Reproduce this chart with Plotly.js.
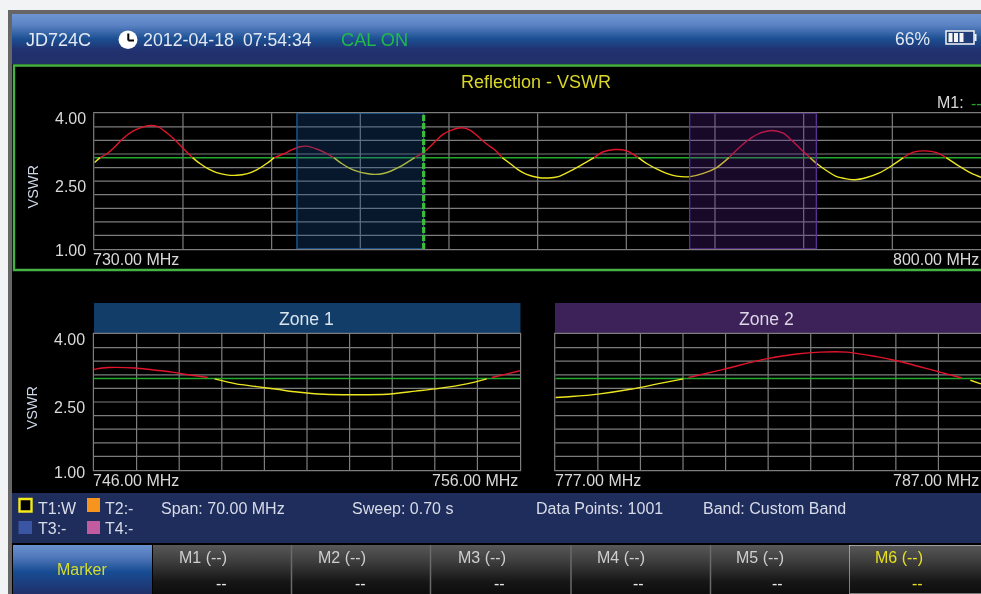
<!DOCTYPE html>
<html>
<head>
<meta charset="utf-8">
<script src="https://cdn.plot.ly/plotly-3.0.1.min.js"></script>
<style>
html,body{margin:0;padding:0;background:#f1f3f5;overflow:hidden;width:981px;height:594px}
.c{position:absolute}
#stage{position:absolute;left:0;top:0;width:981px;height:594px;filter:blur(0.35px)}
#plot{position:absolute;left:0;top:0;width:981px;height:594px}
#plot .crisp{shape-rendering:geometricPrecision !important}
#plot .shapelayer path{shape-rendering:geometricPrecision !important}
</style>
</head>
<body>
<div id="stage">
<div class="c" style="left:8px;top:10px;width:973px;height:584px;background:#666"></div>
<div class="c" style="left:12px;top:14px;width:969px;height:580px;background:#000"></div>
<div class="c" style="left:12px;top:14px;width:969px;height:50px;background:linear-gradient(#6f95d2 0%,#5b83c4 22%,#1b4f92 50%,#223170 72%,#213068 100%)"></div>
<div class="c" style="left:12px;top:493px;width:969px;height:50px;background:#1f2d5c"></div>
<div class="c" style="left:13px;top:545px;width:139px;height:49px;background:linear-gradient(#6a90cf 0%,#5078ba 25%,#174c92 55%,#21306a 100%)"></div>
<div class="c" style="left:153px;top:545px;width:828px;height:49px;background:linear-gradient(#585858 0%,#3c3c3c 35%,#161616 75%,#0d0d0d 100%)"></div>
<div id="plot"></div>
</div>
<script>
const mainFreq = [730.00,730.45,730.97,731.63,732.29,733.08,733.74,734.39,735.05,735.71,736.37,737.03,737.75,738.34,739.00,739.66,740.45,741.24,742.03,742.82,743.61,744.20,744.92,745.58,746.24,746.89,747.55,748.21,748.90,749.53,750.18,750.84,751.50,752.16,752.82,753.47,754.13,754.79,755.30,755.97,756.50,757.03,757.55,758.21,759.00,759.66,760.32,760.97,761.63,762.20,762.82,763.47,764.13,765.05,765.84,766.63,767.55,768.47,769.45,770.18,771.10,772.03,772.95,773.61,774.39,775.18,775.97,777.03,778.08,779.13,780.10,780.71,781.63,782.55,783.47,784.39,785.18,786.10,786.50,787.03,787.82,788.61,789.39,790.05,790.97,791.89,792.95,793.87,794.66,795.58,796.50,797.25,798.34,799.26,800.00];
const mainVswr = [2.91,3.02,3.10,3.26,3.45,3.61,3.69,3.73,3.70,3.57,3.41,3.22,3.02,2.89,2.77,2.69,2.64,2.63,2.66,2.75,2.89,3.02,3.10,3.19,3.26,3.27,3.21,3.13,3.02,2.89,2.78,2.71,2.67,2.65,2.67,2.73,2.82,2.93,3.02,3.13,3.26,3.41,3.54,3.63,3.68,3.63,3.48,3.32,3.19,3.02,2.89,2.75,2.65,2.58,2.57,2.60,2.72,2.86,3.02,3.15,3.20,3.17,3.02,2.89,2.77,2.67,2.61,2.60,2.67,2.80,3.02,3.19,3.41,3.56,3.62,3.56,3.37,3.12,3.02,2.89,2.73,2.60,2.55,2.53,2.58,2.67,2.84,3.02,3.14,3.17,3.13,3.02,2.82,2.67,2.585];
const zone1Freq = [746.00,746.33,746.96,747.36,747.83,748.22,748.67,748.83,749.34,749.82,750.30,750.77,751.41,752.04,752.88,753.55,754.10,754.75,755.22,755.34,755.70,756.00];
const zone1Vswr = [3.22,3.26,3.25,3.21,3.16,3.10,3.04,3.01,2.90,2.84,2.78,2.72,2.67,2.66,2.67,2.74,2.80,2.90,3.01,3.04,3.12,3.19];
const zone2Freq = [777.00,777.38,778.05,778.76,779.46,780.01,780.13,780.95,781.89,782.67,783.22,783.85,784.55,785.02,785.80,786.55,786.75,787.00];
const zone2Vswr = [2.60,2.62,2.68,2.78,2.91,3.01,3.04,3.22,3.44,3.56,3.60,3.60,3.50,3.41,3.22,3.03,2.98,2.90];
const limitVswr = 3.02;
const yTickLabels = ['4.00','2.50','1.00'];
const softKeys = ['M1 (--)','M2 (--)','M3 (--)','M4 (--)','M5 (--)','M6 (--)'];
const infoTexts = ['Span: 70.00 MHz','Sweep: 0.70 s','Data Points: 1001','Band: Custom Band'];

const W = 981, H = 594;
const FONT = '"Liberation Sans", Arial, sans-serif';
const px = x => x / W, py = y => 1 - y / H;
const RED = '#e0142a', YEL = '#ece61e', GRN = '#22a82e', GRID = '#7d7d7d', TXT = '#d9d9d9';

function split(xs, ys) {
  const r = {x: [], y: []}, g = {x: [], y: []};
  for (let i = 0; i < xs.length - 1; i++) {
    const a = ys[i], b = ys[i + 1];
    const t = (a >= limitVswr && b >= limitVswr) ? r : ((a <= limitVswr && b <= limitVswr) ? g : null);
    if (!t) continue;
    if (t.x.length && t.x[t.x.length - 1] === xs[i]) {
      t.x.push(xs[i + 1]); t.y.push(b);
    } else {
      if (t.x.length) { t.x.push(null); t.y.push(null); }
      t.x.push(xs[i], xs[i + 1]); t.y.push(a, b);
    }
  }
  return {r, g};
}
const traces = [];
function addSet(xs, ys, xa, ya, xr, shape) {
  const s = split(xs, ys);
  traces.push({x: [xr[0], xr[1]], y: [limitVswr, limitVswr], xaxis: xa, yaxis: ya, mode: 'lines', line: {color: GRN, width: 1.5}, hoverinfo: 'skip'});
  traces.push({x: s.r.x, y: s.r.y, xaxis: xa, yaxis: ya, mode: 'lines', line: {color: RED, width: 1.4, shape: shape, smoothing: 0.8}, hoverinfo: 'skip', connectgaps: false});
  traces.push({x: s.g.x, y: s.g.y, xaxis: xa, yaxis: ya, mode: 'lines', line: {color: YEL, width: 1.4, shape: shape, smoothing: 0.8}, hoverinfo: 'skip', connectgaps: false});
}
addSet(mainFreq, mainVswr, 'x', 'y', [730, 800], 'spline');
addSet(zone1Freq, zone1Vswr, 'x2', 'y2', [746, 756], 'spline');
addSet(zone2Freq, zone2Vswr, 'x3', 'y3', [777, 787], 'spline');

function xAxis(range, dt, dom, anchor) {
  return {range, dtick: dt, tick0: range[0], domain: dom.map(px), anchor, showgrid: true, gridcolor: GRID, gridwidth: 1.2,
    zeroline: false, showline: true, mirror: true, linecolor: GRID, linewidth: 1.2, showticklabels: false, ticks: '', fixedrange: true};
}
function yAxis(dom, anchor) {
  return {range: [1, 4], dtick: 0.3, tick0: 1, domain: [py(dom[1]), py(dom[0])], anchor, showgrid: true, gridcolor: GRID, gridwidth: 1.2,
    zeroline: false, showline: true, mirror: true, linecolor: GRID, linewidth: 1.2, showticklabels: false, ticks: '', fixedrange: true};
}

const rect = (x0, y0, x1, y1, fill, line, lw, layer) => ({type: 'rect', xref: 'paper', yref: 'paper', x0: px(x0), x1: px(x1), y0: py(y0), y1: py(y1),
  fillcolor: fill || 'rgba(0,0,0,0)', line: {color: line || 'rgba(0,0,0,0)', width: lw || 0}, layer: layer || 'above'});
const seg = (x0, y0, x1, y1, c, w, d) => ({type: 'line', xref: 'paper', yref: 'paper', x0: px(x0), x1: px(x1), y0: py(y0), y1: py(y1), line: {color: c, width: w, dash: d || 'solid'}, layer: 'above'});

const shapes = [
  rect(14, 65.5, 985, 270, null, '#45b245', 2.4, 'below'),
  {type: 'rect', xref: 'x', yref: 'y', x0: 746, x1: 756, y0: 1, y1: 4, fillcolor: 'rgba(22,80,150,0.30)', line: {color: '#1c5e9c', width: 1.3}, layer: 'above'},
  {type: 'rect', xref: 'x', yref: 'y', x0: 777, x1: 787, y0: 1, y1: 4, fillcolor: 'rgba(90,35,150,0.27)', line: {color: '#5b2e92', width: 1.3}, layer: 'above'},
  {type: 'line', xref: 'x', yref: 'y', x0: 756, x1: 756, y0: 1, y1: 4.03, line: {color: '#3dbb3a', width: 3.2, dash: '6px,2px'}, layer: 'above'},
  rect(94, 303, 520.5, 333.5, '#123d68', null, 0, 'below'),
  rect(555, 303, 981, 333.5, '#3d2159', null, 0, 'below'),
  {type: 'circle', xref: 'paper', yref: 'paper', x0: px(118.5), x1: px(137.5), y0: py(30.5), y1: py(49), fillcolor: '#fff', line: {width: 0}, layer: 'above'},
  seg(128.3, 33.5, 128.3, 40.5, '#000', 2),
  seg(128.3, 40.5, 134, 40.5, '#000', 2),
  rect(946, 31, 974, 44, '#1f3b78', '#f4f4f4', 1.5),
  rect(974.5, 34, 976.5, 41, '#f4f4f4', null, 0),
  rect(948.5, 33, 952.5, 42, '#f4f4f4', null, 0),
  rect(954, 33, 958, 42, '#f4f4f4', null, 0),
  rect(959.5, 33, 963.5, 42, '#f4f4f4', null, 0),
  rect(19.5, 499, 31.5, 511.5, '#000', '#f2ea1c', 2.4),
  rect(87, 498, 100, 512, '#f7941d', null, 0),
  rect(18.5, 521, 32, 534, '#3b55a5', null, 0),
  rect(87, 521, 100, 534, '#c25ba0', null, 0),
  seg(291.5, 545, 291.5, 594, '#6a6a6a', 1.5),
  seg(430.5, 545, 430.5, 594, '#6a6a6a', 1.5),
  seg(571, 545, 571, 594, '#6a6a6a', 1.5),
  seg(710.5, 545, 710.5, 594, '#6a6a6a', 1.5),
  rect(849.5, 545.5, 985, 593.5, null, '#e8e8e8', 1, 'above')
];
shapes[shapes.length - 1].line.dash = '1px,1px';

const txt = (text, x, y, size, color, anchor, extra) => Object.assign({text, xref: 'paper', yref: 'paper', x: px(x), y: py(y), xanchor: anchor || 'left', yanchor: 'middle',
  showarrow: false, borderpad: 0, font: {family: FONT, size, color}}, extra || {});

const annotations = [
  txt('JD724C', 25, 40, 18, '#e4e8f2'),
  txt('2012-04-18', 142, 40, 17.8, '#e4e8f2'),
  txt('07:54:34', 241.5, 40, 17.6, '#e4e8f2'),
  txt('CAL ON', 340, 40, 18.2, '#22b84a'),
  txt('66%', 894, 39, 17.5, '#e4e8f2'),
  txt('Reflection - VSWR', 535.5, 82, 18, '#d9d62a', 'center'),
  txt('M1:', 936, 102.5, 16, TXT),
  txt('--', 970, 103, 16, '#1fa52c'),
  txt('VSWR', 32, 186.5, 14.5, '#cdd7e6', 'center', {textangle: -90}),
  txt('VSWR', 31, 407.5, 14.5, '#cdd7e6', 'center', {textangle: -90}),
  txt(yTickLabels[0], 87, 118.5, 16, TXT, 'right'),
  txt(yTickLabels[1], 87, 186.5, 16, TXT, 'right'),
  txt(yTickLabels[2], 87, 250.5, 16, TXT, 'right'),
  txt(yTickLabels[0], 86, 340, 16, TXT, 'right'),
  txt(yTickLabels[1], 86, 407, 16, TXT, 'right'),
  txt(yTickLabels[2], 86, 472, 16, TXT, 'right'),
  txt('730.00 MHz', 92, 259, 16, TXT),
  txt('800.00 MHz', 979.5, 259, 16, TXT, 'right'),
  txt('746.00 MHz', 92, 480, 16, TXT),
  txt('756.00 MHz', 518.5, 480, 16, TXT, 'right'),
  txt('777.00 MHz', 554, 480, 16, TXT),
  txt('787.00 MHz', 979.5, 480, 16, TXT, 'right'),
  txt('Zone 1', 306, 318.5, 17.6, '#dbe4ee', 'center'),
  txt('Zone 2', 766.5, 318.5, 17.6, '#dcd6e4', 'center'),
  txt('T1:W', 37, 508, 16, '#d8dce8'),
  txt('T2:-', 104, 508, 16, '#d8dce8'),
  txt('T3:-', 37, 528, 16, '#d8dce8'),
  txt('T4:-', 104, 528, 16, '#d8dce8'),
  txt(infoTexts[0], 160, 508, 16, '#d8dce8'),
  txt(infoTexts[1], 351, 508, 16, '#d8dce8'),
  txt(infoTexts[2], 535, 508, 16, '#d8dce8'),
  txt(infoTexts[3], 702, 508, 16, '#d8dce8'),
  txt('Marker', 82, 569, 16, '#d6dc2a', 'center')
];
const keyX = [178, 317, 457, 596, 735, 874];
const dashX = [221, 360, 499, 638, 777, 917];
softKeys.forEach((k, i) => {
  const c = i === 5 ? '#e6e01e' : '#cfcfcf';
  annotations.push(txt(k, keyX[i], 557, 16, c));
  annotations.push(txt('--', dashX[i], 583.5, 16, i === 5 ? '#e6e01e' : '#e8e8e8', 'center'));
});

const layout = {
  width: W, height: H, margin: {l: 0, r: 0, t: 0, b: 0, pad: 0}, autosize: false,
  paper_bgcolor: 'rgba(0,0,0,0)', plot_bgcolor: '#000',
  font: {family: FONT},
  showlegend: false, hovermode: false,
  xaxis: xAxis([730, 800], 7, [94.3, 981], 'y'),
  yaxis: yAxis([113.3, 249], 'x'),
  xaxis2: xAxis([746, 756], 1, [94, 520], 'y2'),
  yaxis2: yAxis([334, 470], 'x2'),
  xaxis3: xAxis([777, 787], 1, [555.3, 981], 'y3'),
  yaxis3: yAxis([334, 470], 'x3'),
  shapes, annotations
};
Plotly.newPlot('plot', traces, layout, {displayModeBar: false, staticPlot: true});
</script>
</body>
</html>
